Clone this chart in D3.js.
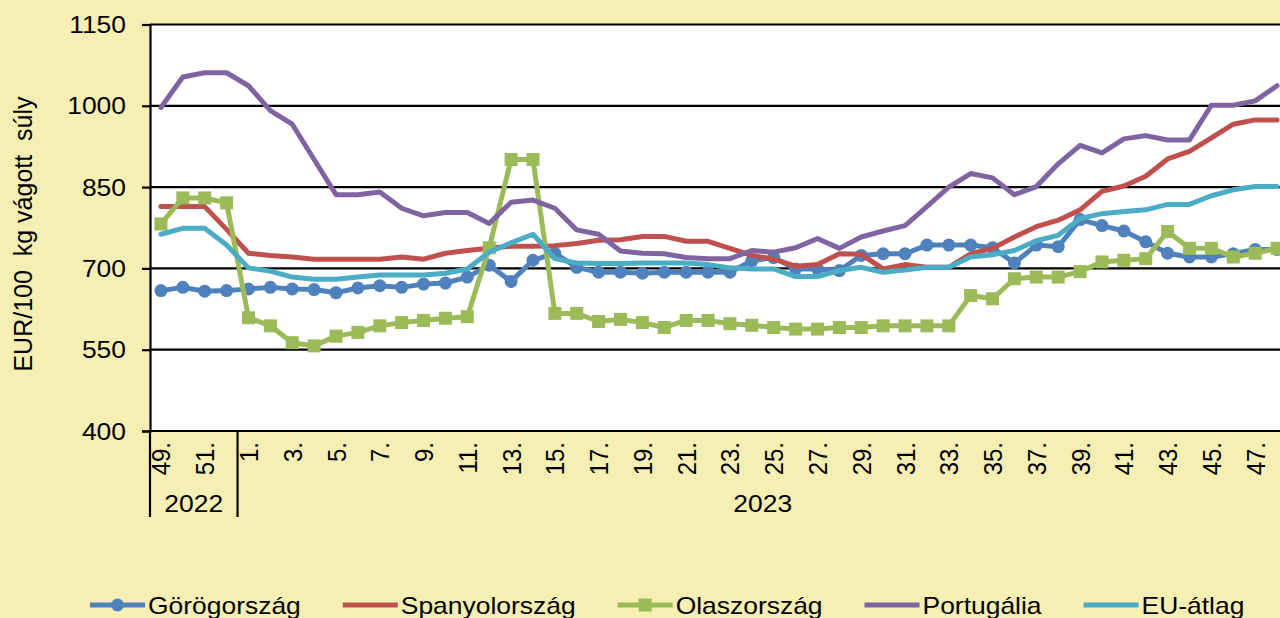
<!DOCTYPE html>
<html>
<head>
<meta charset="utf-8">
<script src="https://cdn.jsdelivr.net/npm/d3@7"></script>
<style>
  html, body { margin: 0; padding: 0; background: #F5EFB4; }
  svg { display: block; font-family: "Liberation Sans", Arial, sans-serif; }
</style>
</head>
<body>
<svg id="chart" width="1280" height="618"></svg>
<script>
// Weekly pig carcass prices, EUR/100 kg
const years = ["2022", "2023"];
const weeks2022 = ["49", "50", "51", "52"];
const weeks2023 = ["1","2","3","4","5","6","7","8","9","10","11","12","13","14","15","16",
                   "17","18","19","20","21","22","23","24","25","26","27","28","29","30","31","32",
                   "33","34","35","36","37","38","39","40","41","42","43","44","45","46","47","48"];
const yTicks = [400, 550, 700, 850, 1000, 1150];

const greece   = [659,665,658,659, 662,665,662,661,655,664,668,665,671,673,684,706,676,715,728,702,
                  693,693,691,693,693,693,693,714,720,699,699,696,724,727,727,743,743,743,738,710,
                  743,740,790,779,769,749,728,721,721,727,735,735];
const spain    = [814,814,814,772, 728,724,721,717,717,717,717,721,717,728,733,737,741,741,742,746,
                  752,753,759,759,750,750,737,724,717,704,707,727,726,699,707,702,702,727,737,758,
                  777,789,808,842,852,870,902,916,941,966,974,974];
const italy    = [782,830,830,821, 609,594,563,557,575,582,594,600,604,608,611,738,901,901,617,617,
                  602,606,600,591,604,604,598,595,591,588,588,591,591,594,594,594,594,650,644,681,
                  684,684,694,712,715,718,768,737,737,721,728,737];
const portugal = [997,1053,1061,1061, 1037,991,966,901,836,836,841,811,797,803,803,783,822,826,811,771,
                  763,732,728,727,720,718,718,733,730,738,755,737,758,769,779,814,850,875,867,836,
                  851,893,927,913,939,945,937,937,1001,1001,1009,1037];
const euAvg    = [763,774,774,743, 701,695,684,680,680,684,688,688,688,691,699,730,747,763,718,710,
                  709,709,710,710,710,707,701,699,699,685,685,696,702,693,697,702,702,721,725,733,
                  751,761,792,801,805,808,818,818,834,845,851,851];

const seriesNames   = ["Görögország", "Spanyolország", "Olaszország", "Portugália", "EU-átlag"];
const seriesValues  = [greece, spain, italy, portugal, euAvg];
const seriesColors  = ["#4F81BD", "#C0504D", "#9BBB59", "#8064A2", "#4BACC6"];
const seriesMarkers = ["circle", "none", "square", "none", "none"];

const yTitle = "EUR/100  kg vágott  súly";

// ---- layout ----
const svg = d3.select("#chart");
const W = 1280, H = 618;
const plot = { left: 150, right: 1288, top: 24.5, bottom: 431 };
const textStretch = 1.15;
const fontSize = 23;

const keys = weeks2022.map(w => "2022-" + w).concat(weeks2023.map(w => "2023-" + w));
const labelOf = {};
weeks2022.forEach(w => labelOf["2022-" + w] = w + ".");
weeks2023.forEach(w => labelOf["2023-" + w] = w + ".");

const x = d3.scaleBand().domain(keys).range([plot.left, plot.right]).padding(0);
const cx = k => x(k) + x.bandwidth() / 2;
const y = d3.scaleLinear().domain([400, 1150]).range([plot.bottom, plot.top]);

svg.append("rect").attr("width", W).attr("height", H).attr("fill", "#F5EFB4");
svg.append("rect")
  .attr("x", plot.left).attr("y", plot.top)
  .attr("width", plot.right - plot.left).attr("height", plot.bottom - plot.top)
  .attr("fill", "#ffffff");

// horizontal gridlines
svg.append("g").selectAll("line").data(yTicks).join("line")
  .attr("x1", plot.left).attr("x2", plot.right)
  .attr("y1", d => y(d)).attr("y2", d => y(d))
  .attr("stroke", "#000").attr("stroke-width", 2.2);

// y axis
const yAxis = d3.axisLeft(y).tickValues(yTicks).tickSize(8).tickFormat(d3.format("d"));
const gy = svg.append("g").attr("transform", `translate(${plot.left},0)`).call(yAxis);
gy.select(".domain").attr("stroke", "#000").attr("stroke-width", 2.2);
gy.selectAll(".tick line").attr("stroke", "#000").attr("stroke-width", 2.2);
gy.selectAll(".tick text")
  .attr("x", null).attr("dy", null)
  .attr("text-anchor", "end")
  .attr("font-size", fontSize).attr("font-family", "Liberation Sans, Arial, sans-serif")
  .attr("fill", "#000")
  .attr("transform", `translate(-24,8) scale(${textStretch},1)`);

// x axis baseline
svg.append("line")
  .attr("x1", plot.left).attr("x2", plot.right)
  .attr("y1", plot.bottom).attr("y2", plot.bottom)
  .attr("stroke", "#000").attr("stroke-width", 2.2);

// week labels (every second week)
svg.append("g").selectAll("text")
  .data(keys.filter((k, i) => i % 2 === 0)).join("text")
  .attr("transform", k => `translate(${cx(k)},${plot.bottom + 11}) scale(1.1,1) rotate(-90)`)
  .attr("text-anchor", "end").attr("dy", "0.36em")
  .attr("font-size", 24).attr("fill", "#000")
  .text(k => labelOf[k]);

// year groups
const groupKeys = [keys.slice(0, weeks2022.length), keys.slice(weeks2022.length)];
const groupEdges = [x(groupKeys[0][0]), x(groupKeys[1][0]), plot.right];
svg.append("g").selectAll("line").data(groupEdges).join("line")
  .attr("x1", d => d).attr("x2", d => d)
  .attr("y1", plot.bottom).attr("y2", 517)
  .attr("stroke", "#000").attr("stroke-width", 2.2);
svg.append("g").selectAll("text").data(years).join("text")
  .attr("transform", (yr, i) => {
    const a = x(groupKeys[i][0]);
    const b = x(groupKeys[i][groupKeys[i].length - 1]) + x.bandwidth();
    return `translate(${(a + b) / 2},512) scale(${textStretch},1)`;
  })
  .attr("text-anchor", "middle").attr("font-size", fontSize).attr("fill", "#000")
  .text(d => d);

// y title
svg.append("text")
  .attr("transform", "translate(32,234) rotate(-90)")
  .attr("text-anchor", "middle").attr("font-size", 25).attr("fill", "#000")
  .attr("xml:space", "preserve").style("white-space", "pre")
  .text(yTitle);

// series
const line = d3.line().x((v, i) => cx(keys[i])).y(v => y(v));
svg.append("defs").append("clipPath").attr("id", "plotclip")
  .append("rect").attr("x", 0).attr("y", 0).attr("width", W).attr("height", plot.bottom);
const gSeries = svg.append("g").attr("clip-path", "url(#plotclip)");
seriesValues.forEach((vals, si) => {
  const g = gSeries.append("g");
  g.append("path").datum(vals)
    .attr("d", line).attr("fill", "none")
    .attr("stroke", seriesColors[si]).attr("stroke-width", 5)
    .attr("stroke-linejoin", "round").attr("stroke-linecap", "round");
  if (seriesMarkers[si] === "circle") {
    g.selectAll("circle").data(vals).join("circle")
      .attr("cx", (v, i) => cx(keys[i])).attr("cy", v => y(v)).attr("r", 6.5)
      .attr("fill", seriesColors[si]);
  } else if (seriesMarkers[si] === "square") {
    g.selectAll("rect").data(vals).join("rect")
      .attr("x", (v, i) => cx(keys[i]) - 6.5).attr("y", v => y(v) - 6.5)
      .attr("width", 13).attr("height", 13)
      .attr("fill", seriesColors[si]);
  }
});

// legend
const legend = svg.append("g");
let lx = 90;
const ly = 605;
seriesNames.forEach((name, si) => {
  const g = legend.append("g");
  g.append("line").attr("x1", lx).attr("x2", lx + 55).attr("y1", ly).attr("y2", ly)
    .attr("stroke", seriesColors[si]).attr("stroke-width", 5);
  if (seriesMarkers[si] === "circle") {
    g.append("circle").attr("cx", lx + 27.5).attr("cy", ly).attr("r", 6.5).attr("fill", seriesColors[si]);
  } else if (seriesMarkers[si] === "square") {
    g.append("rect").attr("x", lx + 21).attr("y", ly - 6.5).attr("width", 13).attr("height", 13)
      .attr("fill", seriesColors[si]);
  }
  const t = g.append("text")
    .attr("transform", `translate(${lx + 58},614) scale(${textStretch},1)`)
    .attr("font-size", fontSize).attr("fill", "#000").text(name);
  const w = t.node().getComputedTextLength() * textStretch;
  lx += 58 + w + 42;
});
</script>
</body>
</html>
